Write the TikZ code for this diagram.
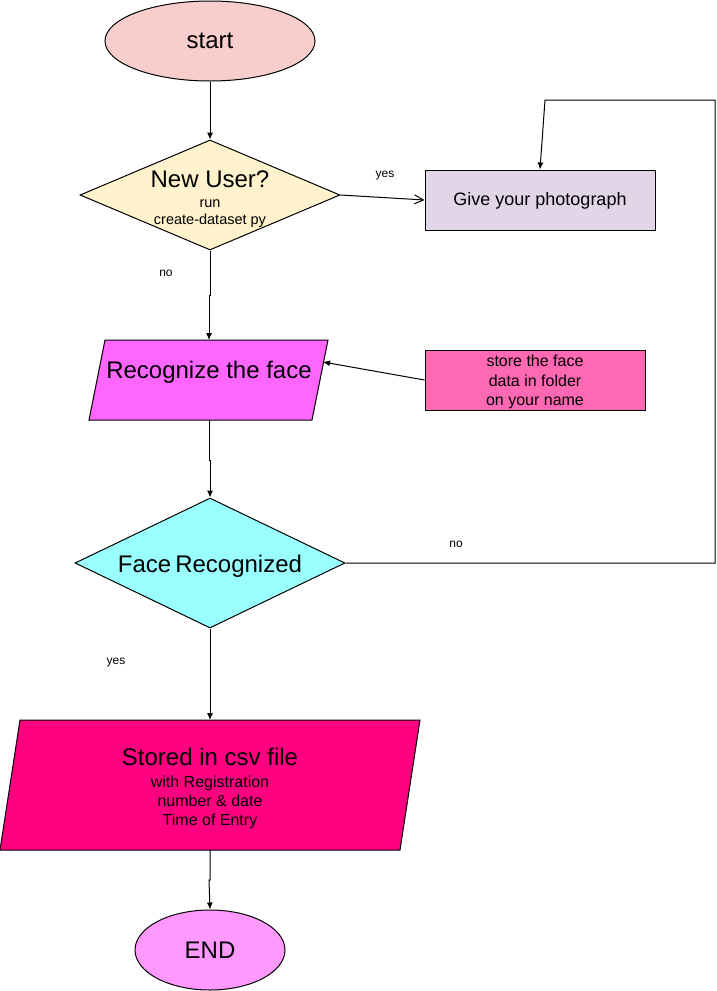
\documentclass[tikz,border=0pt]{standalone}
\usepackage{fontspec}
\setmainfont{Liberation Sans}
\usetikzlibrary{shapes.geometric,arrows.meta}
\definecolor{cstart}{HTML}{F8CECC}
\definecolor{cnew}{HTML}{FFF2CC}
\definecolor{cphoto}{HTML}{E1D5E7}
\definecolor{crec}{HTML}{FF66FF}
\definecolor{cstore}{HTML}{FF69B4}
\definecolor{cface}{HTML}{99FFFF}
\definecolor{ccsv}{HTML}{FF0080}
\definecolor{cend}{HTML}{FF99FF}
\tikzset{
  shp/.style={draw=black, line width=1pt},
  big/.style={font=\fontsize{24}{28}\selectfont},
  txt/.style={align=center, inner sep=0pt},
  lbl/.style={font=\fontsize{12}{14}\selectfont, inner sep=0pt},
  conn/.style={line width=1pt, -{Latex[length=7pt,width=6pt]}},
  openconn/.style={line width=1pt, -{Straight Barb[length=9pt,width=9pt]}},
}
\begin{document}
\begin{tikzpicture}[x=1pt,y=-1pt]
\useasboundingbox (0,0) rectangle (717,991);
% start
\node[shp, ellipse, fill=cstart, minimum width=210pt, minimum height=80pt, inner sep=0pt, big] (start) at (210,41) {start};
% new user diamond
\node[shp, diamond, fill=cnew, minimum width=260pt, minimum height=110pt, inner sep=0pt] (newuser) at (210,195) {};
\node[txt, big] (nutitle) at (210,179) {New User?};
\node[txt, font=\fontsize{14.5}{16.5}\selectfont] (nusub) at (210,213.5) {run\\create-dataset py};
% photograph
\node[shp, rectangle, fill=cphoto, minimum width=230pt, minimum height=60pt, inner sep=0pt] (photo) at (540,200) {};
\node[txt, font=\fontsize{18}{21}\selectfont] (phototxt) at (540,201) {Give your photograph};
% recognize parallelogram
\filldraw[shp, fill=crec] (105,340) -- (328,340) -- (312,420) -- (89,420) -- cycle;
\node[txt, big] (rec) at (209,372) {Recognize the face};
\coordinate (rectop) at (209,340);
\coordinate (recbot) at (209,420);
\coordinate (recright) at (323,362);
% store box
\node[shp, rectangle, fill=cstore, minimum width=220pt, minimum height=60pt, inner sep=0pt] (store) at (535,380) {};
\node[txt, font=\fontsize{16}{19.5}\selectfont] (storetxt) at (535,382) {store the face\\data in folder\\on your name};
% face recognized diamond
\node[shp, diamond, fill=cface, minimum width=270pt, minimum height=130pt, inner sep=0pt] (face) at (210,563) {};
\node[txt, big] (facetxt) at (210,566) {Face\,Recognized};
% csv parallelogram
\filldraw[shp, fill=ccsv] (20,720) -- (420,720) -- (400,850) -- (0,850) -- cycle;
\node[txt, big] (csvtitle) at (210,757) {Stored in csv file};
\node[txt, font=\fontsize{16}{19}\selectfont] (csvsub) at (210,802) {with Registration\\number \& date\\Time of Entry};
\coordinate (csvtop) at (210,720);
\coordinate (csvbot) at (210,850);
% end
\node[shp, ellipse, fill=cend, minimum width=150pt, minimum height=80pt, inner sep=0pt, big] (end) at (210,950) {END};
% connectors
\draw[conn] (start.south) -- (newuser.north);
\draw[openconn] (newuser.east) -- (photo.west);
\node[lbl] (yes1) at (385,176) {yes};
\draw[conn] (newuser.south) -- (210,295) -- (209,295) -- (rectop);
\node[lbl] (no1) at (166,273) {no};
\draw[conn] (store.west) -- (recright);
\draw[conn] (recbot) -- (209,460) -- (210,460) -- (face.north);
\coordinate (loop1) at (715,563);
\coordinate (loop2) at (715,100);
\coordinate (loop3) at (545,100);
\draw[conn] (face.east) -- (loop1) -- (loop2) -- (loop3) -- (photo.north);
\node[lbl] (no2) at (456,544) {no};
\draw[conn] (face.south) -- (csvtop);
\node[lbl] (yes2) at (116,663) {yes};
\draw[conn] (csvbot) -- (210,880) -- (209,880) -- (end.north);
\end{tikzpicture}
\end{document}
